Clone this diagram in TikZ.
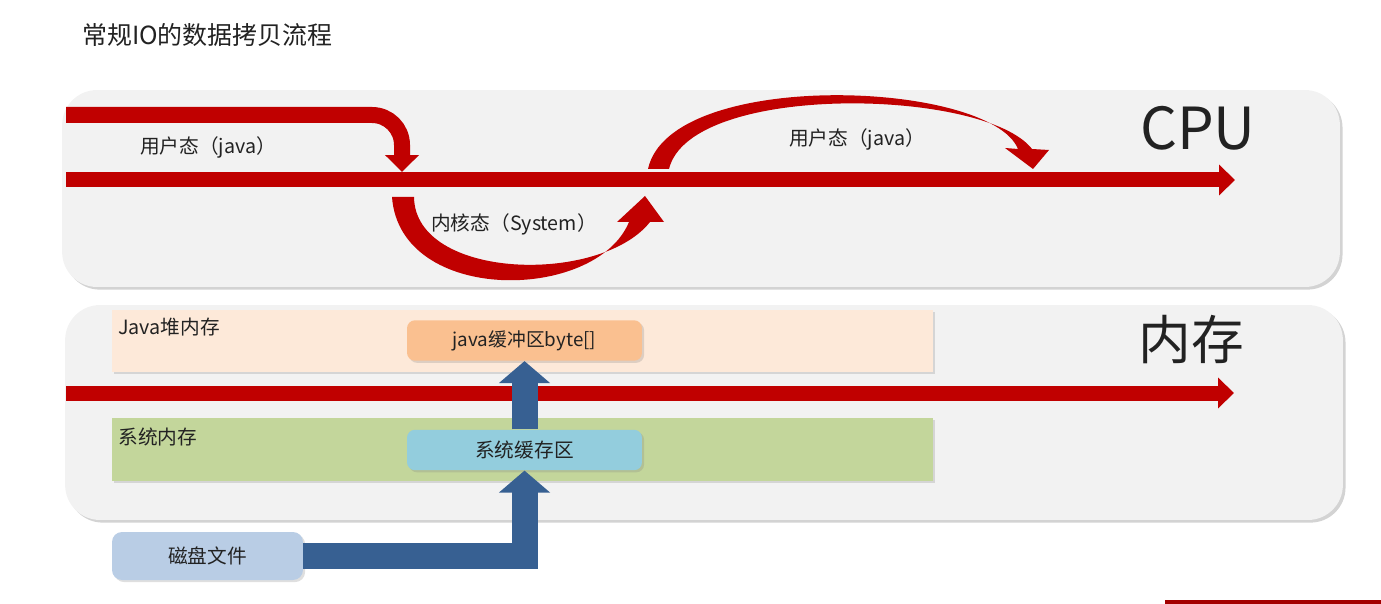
\documentclass[tikz,border=0pt]{standalone}
\usepackage{fontspec}
\setmainfont{Noto Sans CJK SC}
\usepackage{xcolor}
\usepackage{tikz}
\usetikzlibrary{arrows.meta, shadows, positioning}

\definecolor{panelgray}{HTML}{F2F2F2}
\definecolor{heapfill}{HTML}{FDE9D9}
\definecolor{sysfill}{HTML}{C3D69B}
\definecolor{jbuffill}{HTML}{FAC090}
\definecolor{sbuffill}{HTML}{93CDDD}
\definecolor{diskfill}{HTML}{B9CDE5}
\definecolor{flowblue}{HTML}{376092}
\definecolor{flowred}{HTML}{C00000}
\definecolor{txt}{HTML}{222222}

\begin{document}
\begin{tikzpicture}[x=0.02cm, y=-0.02cm, text=txt,
  panel/.style={fill=panelgray, rounded corners=0.7cm, inner sep=0pt,
    drop shadow={shadow xshift=1.5pt, shadow yshift=-1.5pt, opacity=0.35}},
  area/.style={inner sep=0pt, drop shadow={shadow xshift=1.2pt, shadow yshift=-1.2pt, opacity=0.25}},
  buf/.style={area, rounded corners=0.16cm, minimum width=4.7cm, minimum height=0.81cm},
  lbl/.style={font=\fontsize{11.2pt}{13pt}\selectfont},
  redline/.style={draw=flowred, line width=0.3cm, -{Triangle[width=0.6cm, length=0.32cm]}},
  blueline/.style={draw=flowblue, line width=0.52cm, -{Triangle[width=1cm, length=0.44cm]}},
  redbend/.style={fill=flowred}]
\useasboundingbox (0,0) rectangle (1381,604);

% titel
\node[anchor=west, font=\fontsize{14.2pt}{17pt}\selectfont] (title) at (76,35) {常规IO的数据拷贝流程};

% CPU und Speicher
\node[panel, minimum width=25.56cm, minimum height=3.94cm] (cpu) at (701,188.5) {};
\node[panel, minimum width=25.56cm, minimum height=4.3cm] (mem) at (704,412.5) {};
\node[font=\fontsize{33pt}{36pt}\selectfont] (cpulbl) at (1198,128) {CPU};
\node[font=\fontsize{30pt}{34pt}\selectfont] (memlbl) at (1191,340) {内存};

\node[area, fill=heapfill, minimum width=16.42cm, minimum height=1.24cm] (heap) at (522.5,341) {};
\node[area, fill=sysfill, minimum width=16.42cm, minimum height=1.26cm] (sysmem) at (522.5,449.5) {};
\node[lbl, anchor=north west, inner sep=0pt] (heaplbl) at (118,318) {Java堆内存};
\node[lbl, anchor=north west, inner sep=0pt] (syslbl) at (118,428) {系统内存};

\node[buf, fill=jbuffill, font=\fontsize{10.7pt}{13pt}\selectfont] (jbuf) at (524.5,340.5) {java缓冲区byte[]};
\node[buf, fill=sbuffill, lbl] (sbuf) at (524.5,450) {系统缓存区};
\node[area, fill=diskfill, rounded corners=0.2cm, minimum width=3.82cm, minimum height=0.96cm, lbl] (disk) at (207.5,556) {磁盘文件};

% rote Linien
\coordinate (cpuin) at (66,180);
\coordinate (cpuout) at (1235,180);
\coordinate (memin) at (66,393);
\coordinate (memout) at (1234,393);
\coordinate (userin) at (66,115);
\coordinate (userend) at (402,172);
\draw[redline] (cpuin) -- (cpuout);
\draw[redline] (memin) -- (memout);
\draw[redline, rounded corners=0.6cm, -{Triangle[width=0.66cm, length=0.34cm]}, line width=0.32cm] (userin) -| (userend);

% kernel / user Bögen
\fill[redbend] (392,197) .. controls (400,305) and (596,302) .. (629,222) -- (617,222) -- (645,196) -- (664,222) -- (650,222)
  .. controls (600,285) and (415,280) .. (414,197) -- cycle;
\fill[redbend] (648,169) .. controls (670,68) and (990,80) .. (1018,149) -- (1005,148) -- (1033,169) -- (1049,150) -- (1032,149)
  .. controls (985,88) and (690,82) .. (669,169) -- cycle;

\node[lbl] (user1) at (208,147) {用户态（java）};
\node[lbl] (user2) at (857,139) {用户态（java）};
\node[lbl] (kernel) at (514,224) {内核态（System）};

% blaue Pfeile
\draw[blueline] (disk.east) -| (sbuf.south);
\draw[blueline] (sbuf.north) -- (jbuf.south);

\fill[flowred!85!black] (1165,600) rectangle (1381,604);
\end{tikzpicture}
\end{document}
